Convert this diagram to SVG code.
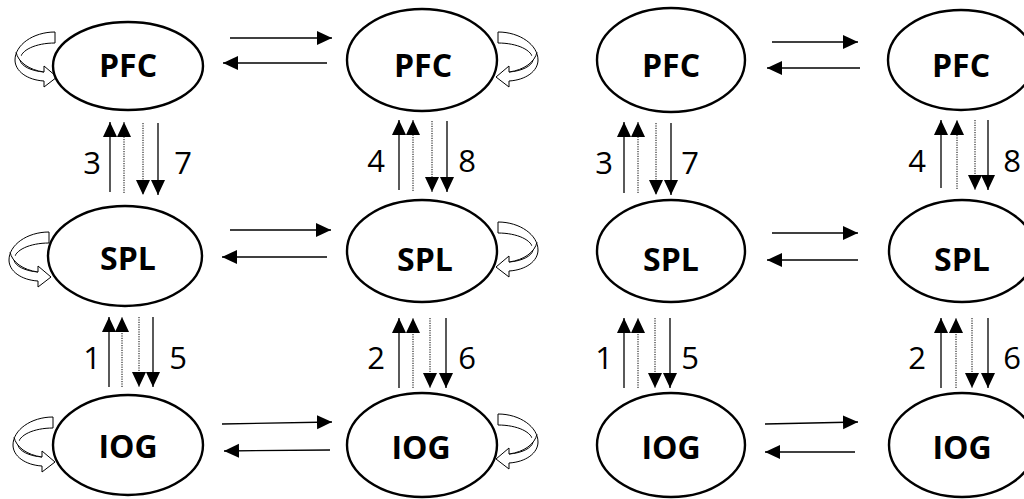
<svg xmlns="http://www.w3.org/2000/svg" width="1024" height="499" viewBox="0 0 1024 499">
<style>
.node ellipse{fill:#fff;stroke:#000;stroke-width:2.4}
.node text{font-family:"Open Sans","Liberation Sans",sans-serif;font-weight:bold;font-size:32px;text-anchor:middle;fill:#000}
.solid{stroke:#000;stroke-width:1.3;fill:none}
.dot{stroke:#000;stroke-width:1;stroke-dasharray:1.2 1.2;fill:none}
.num{font-family:"Open Sans","Liberation Sans",sans-serif;font-size:31px;text-anchor:middle;fill:#000}
.loop{fill:#fff;stroke:#000;stroke-width:1}
</style>
<defs>
<marker id="ah" markerUnits="userSpaceOnUse" markerWidth="16" markerHeight="15" refX="15" refY="7" orient="auto" viewBox="0 0 16 15">
<path d="M0,0 L15,7 L0,14 z" fill="#000"/>
</marker>
<g id="loopL">
<path class="loop" d="M55,32 C33,32 15,45 15,60 C15,71 27,80 44,81 L44,87 L57,77 L44,66 L44,72 C31,71 21,66 20,60 C20,50 36,43 55,43 Z"/>
<path class="loop" fill="none" d="M44,72 C29,70 18,62 16,52"/>
</g>
</defs>

<g id="self-loops">
<use href="#loopL"/>
<use href="#loopL" transform="translate(-6,200)"/>
<use href="#loopL" transform="translate(-2,385)"/>
<use href="#loopL" transform="translate(553,0) scale(-1,1)"/>
<use href="#loopL" transform="translate(553,190) scale(-1,1)"/>
<use href="#loopL" transform="translate(553,382) scale(-1,1)"/>
</g>

<g id="connectors">
<line class="solid" x1="230" y1="38" x2="332" y2="38" marker-end="url(#ah)"/>
<line class="solid" x1="327" y1="63" x2="223" y2="63" marker-end="url(#ah)"/>
<line class="solid" x1="230" y1="230" x2="331" y2="230" marker-end="url(#ah)"/>
<line class="solid" x1="327" y1="257" x2="222" y2="257" marker-end="url(#ah)"/>
<line class="solid" x1="222" y1="424" x2="332" y2="422" marker-end="url(#ah)"/>
<line class="solid" x1="330" y1="450" x2="224" y2="451" marker-end="url(#ah)"/>
<line class="solid" x1="772" y1="42" x2="858" y2="42" marker-end="url(#ah)"/>
<line class="solid" x1="860" y1="68" x2="767" y2="68" marker-end="url(#ah)"/>
<line class="solid" x1="772" y1="233" x2="858" y2="233" marker-end="url(#ah)"/>
<line class="solid" x1="858" y1="260" x2="767" y2="260" marker-end="url(#ah)"/>
<line class="solid" x1="765" y1="424" x2="858" y2="422" marker-end="url(#ah)"/>
<line class="solid" x1="855" y1="452" x2="765" y2="452" marker-end="url(#ah)"/>

<line class="solid" x1="110" y1="192" x2="110" y2="122" marker-end="url(#ah)"/>
<line class="dot" x1="124" y1="193" x2="124" y2="122" marker-end="url(#ah)"/>
<line class="dot" x1="143" y1="123" x2="143" y2="195" marker-end="url(#ah)"/>
<line class="solid" x1="158" y1="123" x2="158" y2="195" marker-end="url(#ah)"/>
<line class="solid" x1="109" y1="387" x2="109" y2="317" marker-end="url(#ah)"/>
<line class="dot" x1="122" y1="387" x2="122" y2="317" marker-end="url(#ah)"/>
<line class="dot" x1="139" y1="317" x2="139" y2="387" marker-end="url(#ah)"/>
<line class="solid" x1="153" y1="317" x2="153" y2="387" marker-end="url(#ah)"/>
<line class="solid" x1="399" y1="190" x2="399" y2="120" marker-end="url(#ah)"/>
<line class="dot" x1="413" y1="191" x2="413" y2="120" marker-end="url(#ah)"/>
<line class="dot" x1="432" y1="121" x2="432" y2="192" marker-end="url(#ah)"/>
<line class="solid" x1="447" y1="121" x2="447" y2="192" marker-end="url(#ah)"/>
<line class="solid" x1="399" y1="388" x2="399" y2="318" marker-end="url(#ah)"/>
<line class="dot" x1="413" y1="388" x2="413" y2="318" marker-end="url(#ah)"/>
<line class="dot" x1="430" y1="318" x2="430" y2="388" marker-end="url(#ah)"/>
<line class="solid" x1="446" y1="318" x2="446" y2="388" marker-end="url(#ah)"/>
<line class="solid" x1="624" y1="193" x2="624" y2="122" marker-end="url(#ah)"/>
<line class="dot" x1="638" y1="193" x2="638" y2="122" marker-end="url(#ah)"/>
<line class="dot" x1="656" y1="123" x2="656" y2="195" marker-end="url(#ah)"/>
<line class="solid" x1="671" y1="123" x2="671" y2="195" marker-end="url(#ah)"/>
<line class="solid" x1="624" y1="388" x2="624" y2="318" marker-end="url(#ah)"/>
<line class="dot" x1="638" y1="388" x2="638" y2="318" marker-end="url(#ah)"/>
<line class="dot" x1="655" y1="318" x2="655" y2="388" marker-end="url(#ah)"/>
<line class="solid" x1="670" y1="318" x2="670" y2="388" marker-end="url(#ah)"/>
<line class="solid" x1="941" y1="188" x2="941" y2="120" marker-end="url(#ah)"/>
<line class="dot" x1="957" y1="189" x2="957" y2="120" marker-end="url(#ah)"/>
<line class="dot" x1="975" y1="120" x2="975" y2="190" marker-end="url(#ah)"/>
<line class="solid" x1="988" y1="120" x2="988" y2="190" marker-end="url(#ah)"/>
<line class="solid" x1="941" y1="388" x2="941" y2="318" marker-end="url(#ah)"/>
<line class="dot" x1="956" y1="388" x2="956" y2="318" marker-end="url(#ah)"/>
<line class="dot" x1="972" y1="318" x2="972" y2="388" marker-end="url(#ah)"/>
<line class="solid" x1="988" y1="318" x2="988" y2="388" marker-end="url(#ah)"/>

<text class="num" x="92" y="174">3</text>
<text class="num" x="183" y="174">7</text>
<text class="num" x="92" y="369">1</text>
<text class="num" x="178" y="369">5</text>
<text class="num" x="376" y="172">4</text>
<text class="num" x="467" y="172">8</text>
<text class="num" x="376" y="369">2</text>
<text class="num" x="467" y="369">6</text>
<text class="num" x="604" y="174">3</text>
<text class="num" x="690" y="174">7</text>
<text class="num" x="604" y="369">1</text>
<text class="num" x="690" y="369">5</text>
<text class="num" x="917" y="172">4</text>
<text class="num" x="1012" y="172">8</text>
<text class="num" x="917" y="369">2</text>
<text class="num" x="1012" y="369">6</text>
</g>

<g id="pfc1" class="node"><ellipse cx="128" cy="66" rx="75" ry="44"/><text x="128" y="77">PFC</text></g>
<g id="spl1" class="node"><ellipse cx="125" cy="256" rx="77" ry="50"/><text x="128" y="270">SPL</text></g>
<g id="iog1" class="node"><ellipse cx="128" cy="445" rx="75" ry="50"/><text x="128" y="458">IOG</text></g>
<g id="pfc2" class="node"><ellipse cx="422" cy="60" rx="75" ry="51"/><text x="423" y="77">PFC</text></g>
<g id="spl2" class="node"><ellipse cx="422" cy="251" rx="75" ry="51"/><text x="425" y="271">SPL</text></g>
<g id="iog2" class="node"><ellipse cx="422" cy="445" rx="75" ry="52"/><text x="421" y="459">IOG</text></g>
<g id="pfc3" class="node"><ellipse cx="671" cy="60" rx="74" ry="52"/><text x="671" y="77">PFC</text></g>
<g id="spl3" class="node"><ellipse cx="671" cy="251" rx="74" ry="51"/><text x="671" y="271">SPL</text></g>
<g id="iog3" class="node"><ellipse cx="671" cy="445" rx="74" ry="52"/><text x="671" y="459">IOG</text></g>
<g id="pfc4" class="node"><ellipse cx="961" cy="60" rx="73" ry="50"/><text x="961" y="77">PFC</text></g>
<g id="spl4" class="node"><ellipse cx="962" cy="251" rx="73" ry="51"/><text x="962" y="271">SPL</text></g>
<g id="iog4" class="node"><ellipse cx="962" cy="445" rx="73" ry="52"/><text x="962" y="459">IOG</text></g>
</svg>
